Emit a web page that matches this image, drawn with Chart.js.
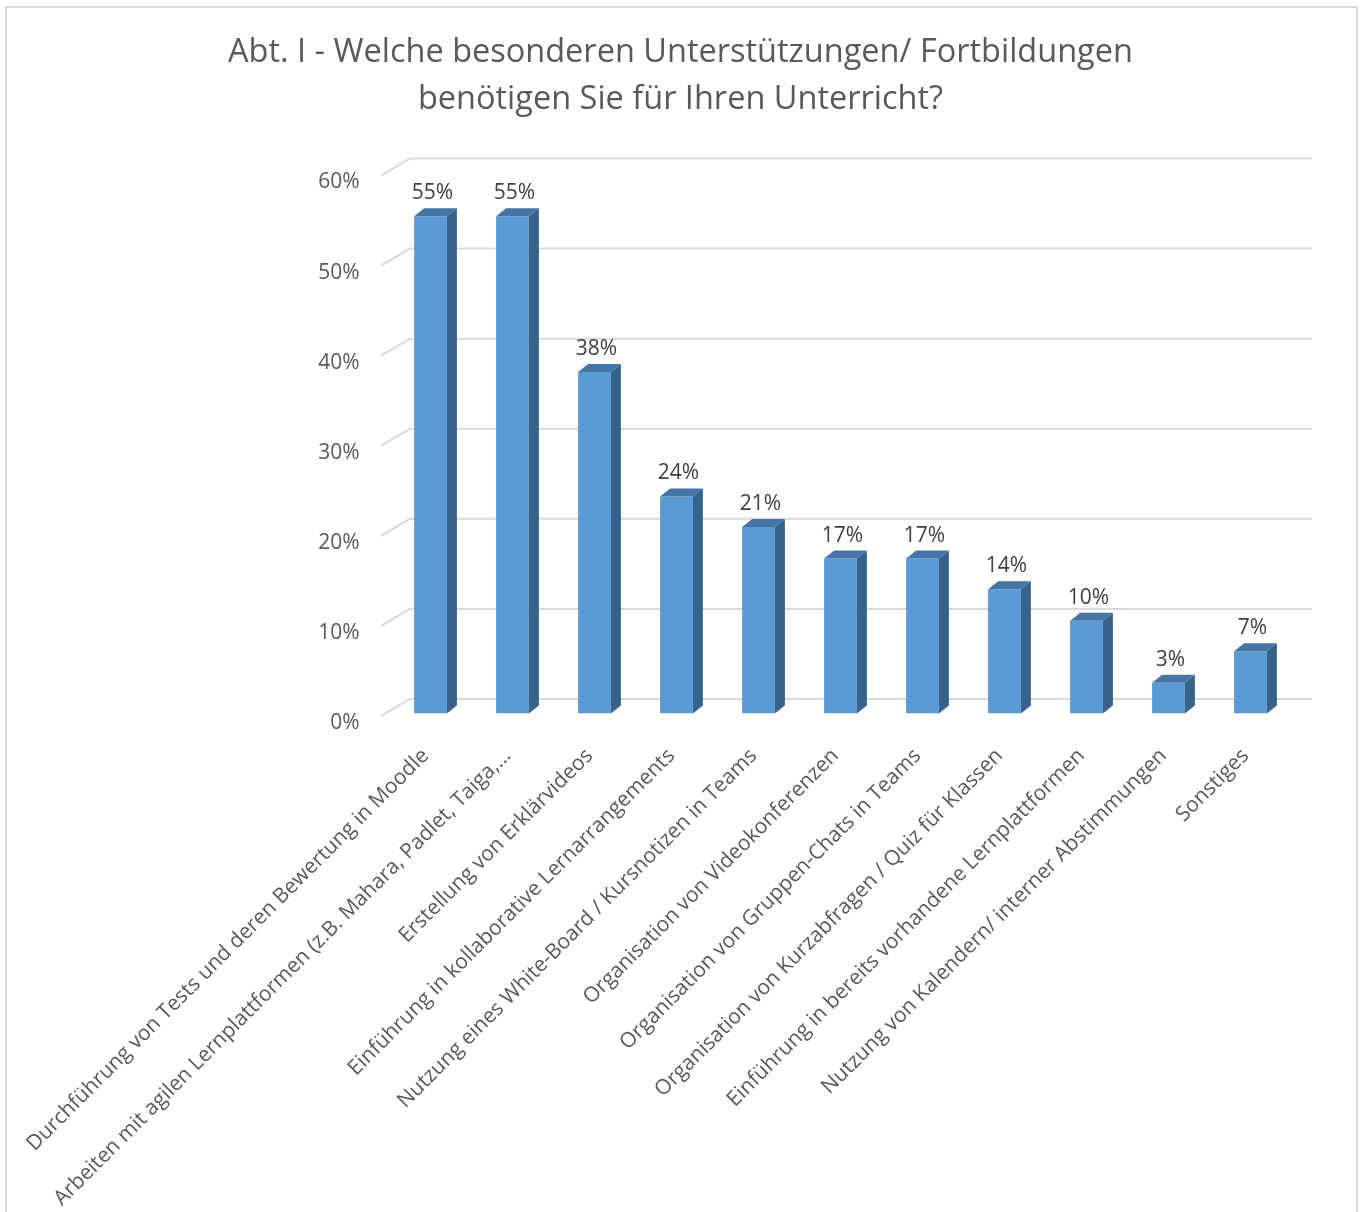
<!DOCTYPE html>
<html>
<head>
<meta charset="utf-8">
<style>
  html, body { margin: 0; padding: 0; background: #fff; }
  #wrap { position: relative; width: 1361px; height: 1212px; }
</style>
<script src="https://cdn.jsdelivr.net/npm/chart.js@4/dist/chart.umd.min.js"></script>
</head>
<body>
<div id="wrap"><canvas id="chart" width="1361" height="1212"></canvas></div>
<script>
const titleLines = [
    'Abt. I - Welche besonderen Unterstützungen/ Fortbildungen',
    'benötigen Sie für Ihren Unterricht?'
];
const categories = [
    'Durchführung von Tests und deren Bewertung in Moodle',
    'Arbeiten mit agilen Lernplattformen (z.B. Mahara, Padlet, Taiga,…',
    'Erstellung von Erklärvideos',
    'Einführung in kollaborative Lernarrangements',
    'Nutzung eines White-Board / Kursnotizen in Teams',
    'Organisation von Videokonferenzen',
    'Organisation von Gruppen-Chats in Teams',
    'Organisation von Kurzabfragen / Quiz für Klassen',
    'Einführung in bereits vorhandene Lernplattformen',
    'Nutzung von Kalendern/ interner Abstimmungen',
    'Sonstiges'
];
const shares = [55.2, 55.2, 37.9, 24.1, 20.7, 17.2, 17.2, 13.8, 10.3, 3.4, 6.9];
const yTicks = [0, 10, 20, 30, 40, 50, 60];

const FONT = "'Open Sans', 'DejaVu Sans', sans-serif";
const DEPTH_X = 10;
const DEPTH_Y = 8;

// white background, chart frame and the two-line title
const framePlugin = {
    id: 'frame',
    beforeDraw(chart) {
        const ctx = chart.ctx;
        ctx.save();
        ctx.fillStyle = '#ffffff';
        ctx.fillRect(0, 0, chart.width, chart.height);
        ctx.strokeStyle = '#D9D9D9';
        ctx.lineWidth = 2;
        ctx.strokeRect(6, 7, 1351, 1220);

        ctx.fillStyle = '#595959';
        ctx.font = `32.5px ${FONT}`;
        ctx.textAlign = 'center';
        ctx.textBaseline = 'alphabetic';
        ctx.fillText(titleLines[0], chart.width / 2, 62);
        ctx.fillText(titleLines[1], chart.width / 2, 109);
        ctx.restore();
    }
};

// gridlines drawn in perspective (floor edge + back wall)
const wallGridPlugin = {
    id: 'wallGrid',
    beforeDatasetsDraw(chart) {
        const { ctx, chartArea, scales } = chart;
        ctx.save();
        ctx.strokeStyle = '#D9D9D9';
        ctx.lineWidth = 2;
        yTicks.forEach(v => {
            const y = scales.y.getPixelForValue(v);
            ctx.beginPath();
            ctx.moveTo(chartArea.left - 8.5, y + 2.5);
            ctx.lineTo(chartArea.left + 20.5, y - 14.5);
            ctx.lineTo(chartArea.right + 20.5, y - 14.5);
            ctx.stroke();
        });
        ctx.restore();
    }
};

// side + top faces of the columns, and the value labels
const columnPlugin = {
    id: 'column3d',
    afterDatasetsDraw(chart) {
        const ctx = chart.ctx;
        const meta = chart.getDatasetMeta(0);
        ctx.save();
        meta.data.forEach((bar, i) => {
            const half = bar.width / 2;
            const l = bar.x - half, r = bar.x + half;
            const top = bar.y, base = bar.base;

            ctx.fillStyle = '#386289';
            ctx.beginPath();
            ctx.moveTo(r, top);
            ctx.lineTo(r + DEPTH_X, top - DEPTH_Y);
            ctx.lineTo(r + DEPTH_X, base - DEPTH_Y);
            ctx.lineTo(r, base);
            ctx.closePath();
            ctx.fill();

            ctx.fillStyle = '#4475A5';
            ctx.beginPath();
            ctx.moveTo(l, top);
            ctx.lineTo(l + DEPTH_X, top - DEPTH_Y);
            ctx.lineTo(r + DEPTH_X, top - DEPTH_Y);
            ctx.lineTo(r, top);
            ctx.closePath();
            ctx.fill();

            ctx.fillStyle = '#404040';
            ctx.font = `21px ${FONT}`;
            ctx.textAlign = 'center';
            ctx.textBaseline = 'middle';
            ctx.fillText(Math.round(shares[i]) + '%', bar.x + 2, top - 23);
        });
        ctx.restore();
    }
};

new Chart(document.getElementById('chart').getContext('2d'), {
    type: 'bar',
    data: {
        labels: categories,
        datasets: [{
            data: shares,
            backgroundColor: '#5B9BD5',
            borderWidth: 0,
            barPercentage: 0.4,
            categoryPercentage: 1
        }]
    },
    options: {
        responsive: false,
        animation: false,
        layout: {
            padding: { top: 173, right: 69.5, bottom: 0, left: 0 }
        },
        plugins: {
            legend: { display: false },
            tooltip: { enabled: false },
            title: { display: false }
        },
        scales: {
            x: {
                grid: { display: false, drawTicks: false },
                border: { display: false },
                ticks: {
                    color: '#595959',
                    font: { family: FONT, size: 21 },
                    minRotation: 45,
                    maxRotation: 45,
                    autoSkip: false,
                    padding: 30,
                    labelOffset: -5
                },
                afterFit(scale) {
                    scale.height = 1212 - 713.5;
                    scale.paddingLeft = 0;
                    scale.paddingRight = 0;
                }
            },
            y: {
                min: 0,
                max: 60,
                grid: { display: false, drawTicks: false },
                border: { display: false },
                ticks: {
                    stepSize: 10,
                    color: '#595959',
                    font: { family: FONT, size: 21 },
                    padding: 30,
                    labelOffset: 9.5,
                    callback: v => v + '%'
                },
                afterFit(scale) {
                    scale.width = 389.5;
                    scale.paddingTop = 0;
                    scale.paddingBottom = 0;
                }
            }
        }
    },
    plugins: [framePlugin, wallGridPlugin, columnPlugin]
});
</script>
</body>
</html>
